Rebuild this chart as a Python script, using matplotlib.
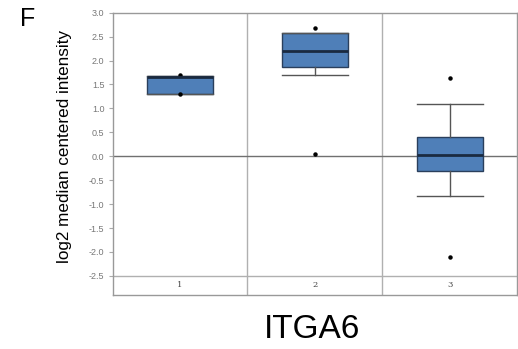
import matplotlib
matplotlib.use("Agg")
import matplotlib.pyplot as plt

categories = ["1", "2", "3"]
medians = [1.66, 2.20, 0.02]
q1 = [1.30, 1.87, -0.31]
q3 = [1.67, 2.57, 0.41]
whislo = [1.30, 1.69, -0.84]
whishi = [1.67, 2.57, 1.10]
fliers = [[1.69, 1.31], [2.68, 0.04], [1.63, -2.11]]
yticks = [3.0, 2.5, 2.0, 1.5, 1.0, 0.5, 0.0, -0.5, -1.0, -1.5, -2.0, -2.5]

plt.rcParams['font.family'] = ['Liberation Sans', 'DejaVu Sans']

fig = plt.figure(figsize=(5.18, 3.49), dpi=100)
ax = fig.add_axes([0.2176, 0.1547, 0.7805, 0.8089])

stats = []
for i, c in enumerate(categories):
    stats.append(dict(med=medians[i], q1=q1[i], q3=q3[i], whislo=whislo[i],
                      whishi=whishi[i], fliers=fliers[i], label=c))

positions = list(range(1, len(categories) + 1))
ax.bxp(stats, positions=positions, widths=0.49, patch_artist=True,
       boxprops=dict(facecolor='#4f7fb8', edgecolor='#2a3f5c', linewidth=1.0),
       medianprops=dict(color='#1a2a40', linewidth=2.0),
       whiskerprops=dict(color='#555555', linewidth=1.0),
       capprops=dict(color='#555555', linewidth=1.0),
       capwidths=0.49,
       flierprops=dict(marker='o', markerfacecolor='black', markeredgecolor='black',
                       markersize=2.2, linestyle='none'),
       zorder=3)

ax.set_xlim(0.5, 3.5)
ax.set_ylim(-2.9, 3.0)

for x in [1.5, 2.5]:
    ax.axvline(x, color='#b0b0b0', linewidth=1.0, zorder=1)
ax.axhline(0.0, color='#707070', linewidth=1.0, zorder=2)
ax.axhline(-2.5, color='#b0b0b0', linewidth=1.0, zorder=1)

for p, c in zip(positions, categories):
    ax.text(p, -2.7, c, ha='center', va='center', fontsize=6, color='#444444',
            family=['DejaVu Serif'])

ax.set_xticks([])
ax.set_yticks(yticks)
ax.set_yticklabels([f"{v:.1f}" for v in yticks], fontsize=6.5, color='#777777')
ax.tick_params(axis='y', length=3, color='#aaaaaa', width=0.8, pad=3)
for s in ax.spines.values():
    s.set_color('#999999')
    s.set_linewidth(1.0)

fig.text(0.124, 0.58, "log2 median centered intensity", rotation=90,
         ha='center', va='center', fontsize=12.3, color='black')
fig.text(0.054, 0.946, "F", ha='center', va='center', fontsize=18, color='black')
fig.text(0.602, 0.055, "ITGA6", ha='center', va='center', fontsize=24, color='black')

fig.savefig("out.png", dpi=100)
